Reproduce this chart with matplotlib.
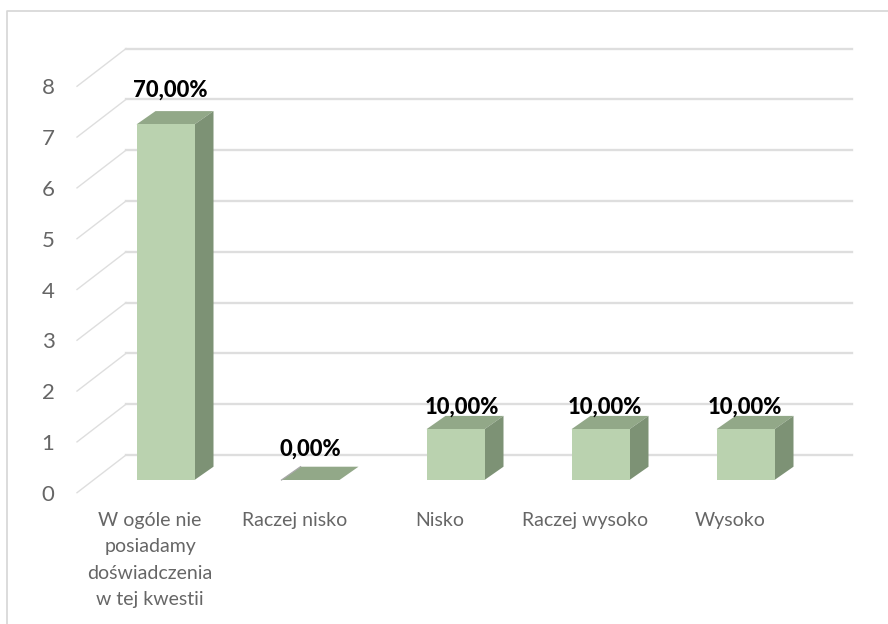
import matplotlib.pyplot as plt
from matplotlib.patches import Polygon

categorias = ["W ogóle nie\nposiadamy\ndoświadczenia\nw tej kwestii", "Raczej nisko", "Nisko", "Raczej wysoko", "Wysoko"]
valores = [7, 0, 1, 1, 1]
rotulos = ["70,00%", "0,00%", "10,00%", "10,00%", "10,00%"]
ticks = [0, 1, 2, 3, 4, 5, 6, 7, 8]

W, H = 888, 624
X0, PASSO = 165.5, 145.0   # pixel da primeira barra, distancia entre barras
Y0, UNID = 480.0, 50.8     # pixel do valor 0, pixels por unidade

# deslocamento dos rotulos em relacao a barra, em pixels (o original nao e regular)
ajuste_x = [4.5, -0.5, 6.5, 4, -1]
ajuste_y = [34.5, 31, 22.5, 22.5, 22.5]

frente = "#BAD2AF"
topo = "#92A888"
lado = "#7D9275"
grade = "#DEDEDE"
cinza = "#666666"

plt.rcParams["font.family"] = ["Lato", "DejaVu Sans"]

fig = plt.figure(figsize=(W / 100, H / 100), dpi=100)
ax = fig.add_axes([0, 0, 1, 1])
ax.set_xlim(-X0 / PASSO, (W - X0) / PASSO)
ax.set_ylim((Y0 - H) / UNID, Y0 / UNID)
ax.axis("off")

largura = 58.0 / PASSO
prof_x = 19.0 / PASSO
prof_y = 13.3 / UNID

#Borda (so esquerda e topo aparecem no recorte)
borda_x = [7.5, 7.5, W]
borda_y = [H, 10.5, 10.5]
ax.plot([(x - X0) / PASSO for x in borda_x], [(Y0 - y) / UNID for y in borda_y],
        color="#D6D6D6", lw=1.2, clip_on=False)

#Grade
gx_frente = (77 - X0) / PASSO
gx_fundo = (126 - X0) / PASSO
gx_fim = (852 - X0) / PASSO
queda = 12.7 / UNID
subida = 25.0 / UNID
for t in ticks:
    ax.plot([gx_frente, gx_fundo], [t - queda, t + subida], color=grade, lw=1.0, zorder=1)
    ax.plot([gx_fundo, gx_fim], [t + subida, t + subida], color=grade, lw=1.7, zorder=1)
    ax.text((48 - X0) / PASSO, t - queda - 2.0 / UNID, str(t), ha="center", va="center",
            fontsize=16, color=cinza)

#Barras
for i, v in enumerate(valores):
    e = i - largura / 2
    d = i + largura / 2
    ax.add_patch(Polygon([(e, v), (e + prof_x, v + prof_y), (d + prof_x, v + prof_y), (d, v)],
                         closed=True, fc=topo, ec="none", zorder=2))
    if v > 0:
        ax.add_patch(Polygon([(d, 0), (d + prof_x, prof_y), (d + prof_x, v + prof_y), (d, v)],
                             closed=True, fc=lado, ec="none", zorder=2))
        ax.add_patch(Polygon([(e, 0), (d, 0), (d, v), (e, v)],
                             closed=True, fc=frente, ec="none", zorder=3))
    else:
        ax.plot([e, e + prof_x], [0, prof_y], color="#A8A8A8", lw=0.9, zorder=3)

#Rotulos
for i, v in enumerate(valores):
    ax.annotate(rotulos[i], (i, v), xytext=(ajuste_x[i] * 0.72, ajuste_y[i] * 0.72),
                textcoords="offset points", ha="center", va="center",
                fontsize=15.8, fontweight="black", color="black", zorder=5)

#Categorias
for i, c in enumerate(categorias):
    for j, parte in enumerate(c.split("\n")):
        ax.text(i - 15.5 / PASSO, (Y0 - (520.5 + 26.4 * j)) / UNID, parte, ha="center", va="center",
                fontsize=14, color=cinza)

fig.savefig("out.png", dpi=100)
plt.close(fig)
